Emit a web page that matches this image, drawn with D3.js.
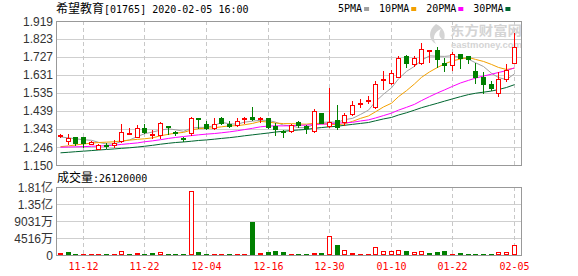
<!DOCTYPE html>
<html><head><meta charset="utf-8">
<script src="https://cdn.jsdelivr.net/npm/d3@7"></script>
<style>body{margin:0;background:#fff}svg{display:block}</style>
</head><body>
<svg id="c" width="578" height="276"></svg>
<script>
const dates = ["2019-11-07","2019-11-08","2019-11-11","2019-11-12","2019-11-13","2019-11-14","2019-11-15","2019-11-18","2019-11-19","2019-11-20","2019-11-21","2019-11-22","2019-11-25","2019-11-26","2019-11-27","2019-11-28","2019-11-29","2019-12-02","2019-12-03","2019-12-04","2019-12-05","2019-12-06","2019-12-09","2019-12-10","2019-12-11","2019-12-12","2019-12-13","2019-12-16","2019-12-17","2019-12-18","2019-12-19","2019-12-20","2019-12-23","2019-12-24","2019-12-27","2019-12-30","2019-12-31","2020-01-02","2020-01-03","2020-01-06","2020-01-07","2020-01-08","2020-01-09","2020-01-10","2020-01-13","2020-01-14","2020-01-15","2020-01-16","2020-01-17","2020-01-20","2020-01-21","2020-01-22","2020-01-23","2020-01-24","2020-01-29","2020-01-30","2020-01-31","2020-02-03","2020-02-04","2020-02-05"];
const openP = [1.307,1.280,1.298,1.298,1.264,1.234,1.257,1.255,1.279,1.315,1.301,1.346,1.312,1.310,1.358,1.328,1.294,1.319,1.400,1.369,1.346,1.399,1.367,1.364,1.397,1.408,1.397,1.399,1.358,1.331,1.331,1.378,1.360,1.331,1.428,1.360,1.390,1.381,1.420,1.476,1.490,1.460,1.605,1.586,1.622,1.732,1.689,1.693,1.757,1.764,1.693,1.684,1.743,1.732,1.652,1.618,1.583,1.533,1.608,1.693];
const highP = [1.313,1.316,1.300,1.300,1.280,1.264,1.266,1.285,1.367,1.346,1.362,1.367,1.336,1.378,1.359,1.330,1.300,1.408,1.402,1.387,1.399,1.408,1.385,1.399,1.408,1.461,1.408,1.401,1.376,1.335,1.370,1.385,1.365,1.448,1.430,1.560,1.472,1.429,1.490,1.500,1.518,1.600,1.653,1.656,1.732,1.737,1.732,1.803,1.766,1.782,1.720,1.752,1.745,1.733,1.693,1.648,1.600,1.648,1.689,1.856];
const lowP = [1.298,1.260,1.258,1.245,1.260,1.234,1.240,1.247,1.272,1.313,1.300,1.323,1.293,1.294,1.316,1.312,1.277,1.308,1.346,1.341,1.341,1.369,1.355,1.358,1.376,1.390,1.382,1.346,1.310,1.301,1.328,1.355,1.322,1.328,1.372,1.355,1.340,1.366,1.417,1.460,1.483,1.452,1.554,1.580,1.618,1.675,1.679,1.689,1.702,1.675,1.654,1.657,1.666,1.693,1.590,1.536,1.550,1.520,1.600,1.693];
const closeP = [1.311,1.296,1.266,1.266,1.271,1.257,1.252,1.268,1.325,1.319,1.346,1.326,1.315,1.376,1.352,1.320,1.289,1.399,1.396,1.350,1.369,1.376,1.360,1.387,1.401,1.394,1.402,1.355,1.341,1.325,1.366,1.362,1.349,1.436,1.374,1.378,1.355,1.417,1.470,1.480,1.495,1.582,1.611,1.642,1.720,1.693,1.720,1.768,1.762,1.714,1.684,1.741,1.720,1.714,1.622,1.583,1.560,1.608,1.657,1.778];
const volume = [4500000,7000000,2500000,2500000,2500000,2500000,2500000,2500000,10000000,2500000,4500000,2500000,4500000,7000000,2500000,2500000,2500000,170000000,7000000,2500000,2000000,2000000,2000000,2000000,2000000,88000000,4500000,7000000,10000000,7000000,2000000,2000000,2000000,4500000,4500000,50000000,27000000,12000000,4500000,2500000,2500000,20000000,10000000,10000000,12000000,10000000,7000000,10000000,4500000,7000000,10000000,2500000,4500000,2500000,2500000,2500000,2500000,7000000,7000000,26120000];
const volDir = ["r","g","g","r","r","r","g","r","r","g","r","g","g","r","g","g","g","r","g","g","r","r","g","r","r","g","r","g","g","g","r","g","g","r","g","r","g","r","r","r","r","r","r","r","r","g","r","r","g","g","g","r","g","g","g","g","g","r","r","r"];
const ma5 = [1.300,1.295,1.290,1.285,1.282,1.271,1.262,1.263,1.275,1.284,1.302,1.317,1.326,1.336,1.343,1.338,1.330,1.347,1.351,1.351,1.361,1.378,1.370,1.368,1.379,1.384,1.389,1.388,1.379,1.363,1.358,1.350,1.349,1.368,1.377,1.380,1.378,1.392,1.399,1.420,1.443,1.489,1.528,1.562,1.610,1.650,1.677,1.709,1.733,1.731,1.730,1.734,1.724,1.715,1.696,1.676,1.640,1.617,1.606,1.637];
const ma10 = [1.248,1.252,1.257,1.262,1.267,1.270,1.272,1.274,1.279,1.283,1.287,1.290,1.295,1.306,1.314,1.320,1.324,1.337,1.344,1.347,1.349,1.354,1.359,1.360,1.365,1.372,1.383,1.379,1.374,1.371,1.371,1.369,1.368,1.373,1.370,1.369,1.364,1.370,1.383,1.399,1.412,1.434,1.460,1.480,1.515,1.547,1.583,1.618,1.647,1.671,1.690,1.706,1.716,1.724,1.714,1.703,1.687,1.671,1.660,1.667];
const ma20 = [1.245,1.246,1.247,1.248,1.250,1.251,1.253,1.256,1.260,1.264,1.268,1.274,1.279,1.285,1.292,1.297,1.302,1.307,1.311,1.315,1.318,1.322,1.327,1.333,1.339,1.346,1.354,1.358,1.359,1.359,1.360,1.362,1.363,1.366,1.368,1.370,1.374,1.375,1.378,1.385,1.391,1.401,1.414,1.427,1.443,1.458,1.474,1.494,1.515,1.535,1.551,1.570,1.588,1.602,1.614,1.625,1.635,1.644,1.654,1.669];
const ma30 = [1.215,1.218,1.221,1.224,1.227,1.230,1.233,1.236,1.239,1.242,1.246,1.250,1.255,1.261,1.266,1.270,1.273,1.277,1.281,1.284,1.288,1.292,1.296,1.301,1.306,1.311,1.316,1.321,1.326,1.330,1.334,1.337,1.340,1.346,1.350,1.354,1.357,1.362,1.367,1.372,1.377,1.386,1.396,1.404,1.417,1.429,1.443,1.456,1.468,1.480,1.491,1.503,1.515,1.526,1.533,1.539,1.545,1.553,1.564,1.579];
const priceTicks = [1.150,1.246,1.343,1.439,1.535,1.631,1.727,1.823,1.919];
const volTicks = [0,45160000,90310000,135470000,180640000];
const volTickLabels = ["0","4516万","9031万","1.35亿","1.81亿"];
const dateTicks = ["2019-11-12","2019-11-22","2019-12-04","2019-12-16","2019-12-30","2020-01-10","2020-01-22","2020-02-05"];
const maNames = ["5PMA","10PMA","20PMA","30PMA"];
const maColors = ["#a0a0a0","#f3a000","#ff00ff","#006630"];
const titleName = "希望教育";
const titleRest = "[01765] 2020-02-05 16:00";
const volLabel = "成交量:26120000";

const RED = "#ff0000", GREEN = "#008000";
const L = 56, R = 522, T1 = 21, B1 = 165, T2 = 187, B2 = 255;
const svg = d3.select("#c");
const mono = "'DejaVu Sans Mono', monospace";
const sans = "'Liberation Sans', Arial, 'Noto Sans CJK SC', sans-serif";
const cjk = "'Noto Sans CJK SC', sans-serif";

const x = d3.scaleBand().domain(dates).range([56.5, 518]).padding(0);
const cx = d => Math.floor(x(d) + x.bandwidth() / 2) + 0.5;
const y = d3.scaleLinear().domain([1.150, 1.919]).range([B1, T1]);
const yv = d3.scaleLinear().domain([0, 180640000]).range([B2, T2]);
const py = v => Math.round(y(v)) + 0.5;

// grid: horizontal
const g = svg.append("g");
g.selectAll("line.hp").data(priceTicks.slice(1, -1)).join("line")
  .attr("x1", L).attr("x2", R).attr("y1", py).attr("y2", py)
  .attr("stroke", "#cfcfcf").attr("stroke-width", 1);
g.selectAll("line.hv").data(volTicks.slice(1, -1)).join("line")
  .attr("x1", L).attr("x2", R)
  .attr("y1", d => Math.round(yv(d)) + 0.5).attr("y2", d => Math.round(yv(d)) + 0.5)
  .attr("stroke", "#cfcfcf").attr("stroke-width", 1);
// grid: vertical dashed
[[T1, B1], [T2, B2]].forEach(([a, b]) => {
  g.selectAll(null).data(dateTicks).join("line")
    .attr("x1", cx).attr("x2", cx).attr("y1", a).attr("y2", b)
    .attr("stroke", "#c8c8c8").attr("stroke-dasharray", "4,3").attr("stroke-width", 1);
});

// watermark
const wm = svg.append("g").attr("fill", "#d4d4d4");
wm.append("path").attr("d", "M436,24 C428,30 428,40 436,44 C432,38 434,32 441,29 C438,34 439,38 444,40 C446,34 444,28 436,24 Z");
wm.append("text").attr("x", 450).attr("y", 35).attr("font-family", cjk).attr("font-weight", "bold")
  .attr("font-size", 13).attr("textLength", 72).attr("lengthAdjust", "spacingAndGlyphs").text("东方财富网");
wm.append("text").attr("x", 451).attr("y", 48).attr("font-family", sans).attr("font-weight", "bold")
  .attr("font-size", 9).attr("textLength", 71).attr("lengthAdjust", "spacingAndGlyphs").text("eastmoney.com");

// frames
svg.append("rect").attr("x", L + 0.5).attr("y", T1 + 0.5).attr("width", R - L - 1).attr("height", B1 - T1)
  .attr("fill", "none").attr("stroke", "#999");
svg.append("rect").attr("x", L + 0.5).attr("y", T2 + 0.5).attr("width", R - L - 1).attr("height", B2 - T2)
  .attr("fill", "none").attr("stroke", "#999");

// MA lines
const mas = [ma5, ma10, ma20, ma30];
mas.forEach((arr, k) => {
  const line = d3.line().x((v, i) => cx(dates[i])).y(v => y(v));
  svg.append("path").attr("d", line(arr)).attr("fill", "none")
    .attr("stroke", maColors[k]).attr("stroke-width", 1);
});

// candles
const cg = svg.append("g");
dates.forEach((d, i) => {
  const o = openP[i], c = closeP[i], h = highP[i], l = lowP[i];
  const up = c >= o;
  const col = up ? RED : GREEN;
  const X = cx(d);
  cg.append("line").attr("x1", X).attr("x2", X).attr("y1", Math.round(y(h))).attr("y2", Math.round(y(l)) + 1)
    .attr("stroke", col);
  const yt = Math.round(y(Math.max(o, c))), yb = Math.round(y(Math.min(o, c)));
  if (yb - yt < 1) {
    cg.append("line").attr("x1", X - 3).attr("x2", X + 3).attr("y1", yt + 0.5).attr("y2", yt + 0.5).attr("stroke", col);
  } else {
    cg.append("rect").attr("x", X - 2).attr("y", yt + 0.5).attr("width", 4).attr("height", yb - yt)
      .attr("fill", up ? "#fff" : GREEN).attr("stroke", col);
  }
});

// volume bars
const vg = svg.append("g");
dates.forEach((d, i) => {
  const X = cx(d);
  const top = Math.min(Math.round(yv(volume[i])), B2 - 1);
  const isUp = volDir[i] === "r";
  const col = isUp ? RED : GREEN;
  vg.append("rect").attr("x", X - 2).attr("y", top + 0.5).attr("width", 4).attr("height", Math.max(B2 - 1 - top, 0.01))
    .attr("fill", isUp ? "#fff" : GREEN).attr("stroke", col);
});

// y labels
svg.append("g").selectAll("text").data(priceTicks).join("text")
  .attr("x", 53).attr("y", d => y(d) + 4.5).attr("text-anchor", "end")
  .attr("font-family", sans).attr("font-size", 12).attr("fill", "#333")
  .text(d => d.toFixed(3));
svg.append("g").selectAll("text").data(volTicks).join("text")
  .attr("x", 53).attr("y", d => yv(d) + 4.5).attr("text-anchor", "end")
  .attr("font-family", sans).attr("font-size", 12).attr("fill", "#333")
  .text((d, i) => volTickLabels[i]);

// date labels
const fmt = d3.timeFormat("%m-%d"), parse = d3.timeParse("%Y-%m-%d");
svg.append("g").selectAll("text").data(dateTicks).join("text")
  .attr("x", cx).attr("y", 270).attr("text-anchor", "middle")
  .attr("font-family", mono).attr("font-size", 10).attr("fill", RED)
  .text(d => fmt(parse(d)));

// title
const tt = svg.append("text").attr("x", 56).attr("y", 13).attr("fill", "#000");
tt.append("tspan").attr("font-family", cjk).attr("font-size", 12).text(titleName);
tt.append("tspan").attr("font-family", mono).attr("font-size", 10).text(titleRest);

// volume label
const vt = svg.append("text").attr("x", 57).attr("y", 182).attr("fill", "#000");
vt.append("tspan").attr("font-family", cjk).attr("font-size", 12).text(volLabel.slice(0, 3));
vt.append("tspan").attr("font-family", mono).attr("font-size", 10).text(volLabel.slice(3));

// legend
let lx = 338;
const lg = svg.append("g");
maNames.forEach((n, k) => {
  const t = lg.append("text").attr("x", lx).attr("y", 12).attr("font-family", mono).attr("font-size", 10)
    .attr("fill", "#000").text(n);
  const w = t.node().getComputedTextLength();
  lg.append("rect").attr("x", lx + w + 2).attr("y", 7).attr("width", 5).attr("height", 4).attr("fill", maColors[k]);
  lx += w + 17;
});
</script>
</body></html>
